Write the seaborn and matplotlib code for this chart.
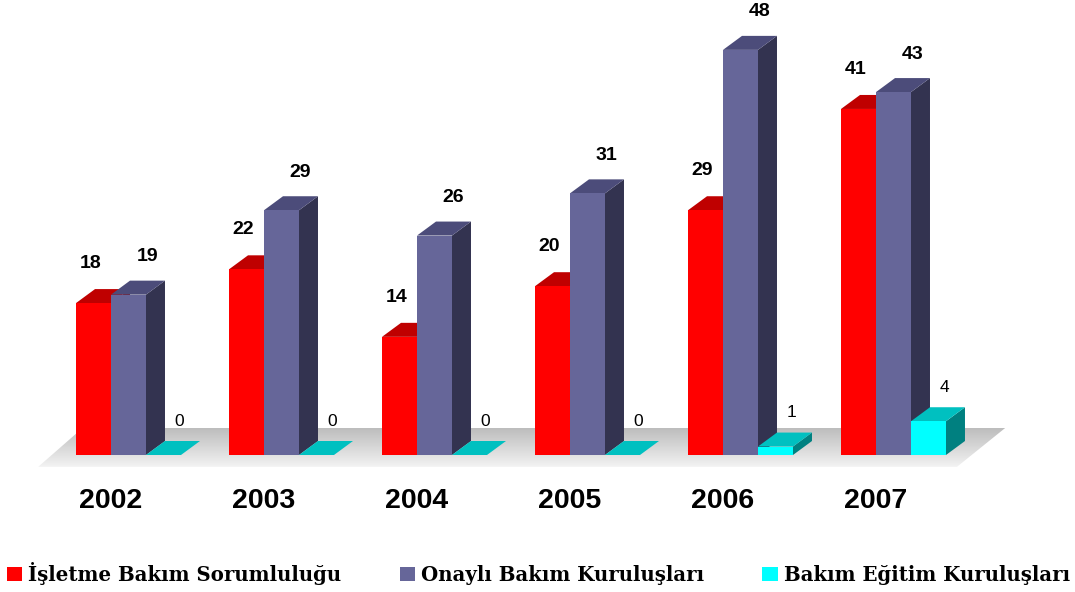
import numpy as np
import pandas as pd
import matplotlib.pyplot as plt
import seaborn as sns
from matplotlib.patches import Polygon, Patch

years = ["2002", "2003", "2004", "2005", "2006", "2007"]
isletme = [18, 22, 14, 20, 29, 41]
onayli = [19, 29, 26, 31, 48, 43]
egitim = [0, 0, 0, 0, 1, 4]
series = ["İşletme Bakım Sorumluluğu", "Onaylı Bakım Kuruluşları", "Bakım Eğitim Kuruluşları"]

front_colors = ["#ff0000", "#666699", "#00ffff"]
top_colors = ["#bf0000", "#4c4c7a", "#00c0c0"]
side_colors = ["#990000", "#333350", "#008080"]

df = pd.DataFrame({
    "year": years * 3,
    "value": isletme + onayli + egitim,
    "series": np.repeat(series, len(years)),
})

sns.set_style("white")
plt.rcParams["text.color"] = "black"

fig = plt.figure(figsize=(10.75, 5.92), dpi=100)
ax = fig.add_axes([0, 0, 1, 1])

# pixel scale of the reference
px_x = 153.0
px_y = 8.44
dx = 19 / px_x   # depth offset
dy = 14 / px_y

# floor (gradient parallelogram)
n = len(years)
floor = [(-0.59, -1.4), (n - 0.585, -1.4), (n - 0.27, 3.2), (-0.30, 3.2)]
grad = np.linspace(0.74, 0.95, 100).reshape(-1, 1)
img = ax.imshow(grad, cmap="gray", vmin=0, vmax=1, aspect="auto",
                extent=(-0.6, n - 0.2, -1.4, 3.2), origin="upper", zorder=1)
poly = Polygon(floor, closed=True, facecolor="none", edgecolor="none")
ax.add_patch(poly)
img.set_clip_path(poly)

sns.barplot(data=df, x="year", y="value", hue="series", palette=front_colors,
            saturation=1, width=0.686, legend=False, ax=ax, linewidth=0)

for i, cont in enumerate(ax.containers):
    for rect in cont:
        x, w, h = rect.get_x(), rect.get_width(), rect.get_height()
        side = [(x + w, 0), (x + w + dx, dy), (x + w + dx, h + dy), (x + w, h)]
        top = [(x, h), (x + dx, h + dy), (x + w + dx, h + dy), (x + w, h)]
        ax.add_patch(Polygon(side, closed=True, facecolor=side_colors[i], edgecolor="none", zorder=2 + i))
        ax.add_patch(Polygon(top, closed=True, facecolor=top_colors[i], edgecolor="none", zorder=2.1 + i))
        rect.set_zorder(2.2 + i)
        rect.set_edgecolor("none")
        cx = x + w / 2
        if i == 0:
            ax.text(cx - 0.02, h + 4.7, f"{h:.0f}", ha="center", va="center", color="black",
                    family="Liberation Sans", weight="bold", fontsize=14, zorder=10)
        elif i == 1:
            ax.text(cx + dx, h + 4.5, f"{h:.0f}", ha="center", va="center", color="black",
                    family="Liberation Sans", weight="bold", fontsize=14, zorder=10)
        else:
            ax.text(cx + dx - 0.02, h + 4.0, f"{h:.0f}", ha="center", va="center", color="black",
                    family="Liberation Sans", fontsize=12.5, zorder=10)

for k, yr in enumerate(years):
    ax.text(k - 0.12, -5.4, yr, ha="center", va="center", color="black",
            family="Liberation Sans", weight="bold", fontsize=20.5)

ax.set_xlim(-128.5 / px_x, (1075 - 128.5) / px_x)
ax.set_ylim(-137 / px_y, (592 - 137) / px_y)
ax.axis("off")

handles = [Patch(facecolor=c, edgecolor="none") for c in front_colors]
leg = ax.legend(handles, series, ncol=3, loc="lower left",
                bbox_to_anchor=(7 / 1075, 7 / 592), bbox_transform=fig.transFigure,
                frameon=False, prop=dict(family="DejaVu Serif", weight="bold", size=14.2),
                handlelength=0.78, handleheight=0.72, handletextpad=0.3,
                columnspacing=2.95, borderaxespad=0, borderpad=0)
for t in leg.get_texts():
    t.set_color("black")

fig.savefig("out.png", dpi=100)
